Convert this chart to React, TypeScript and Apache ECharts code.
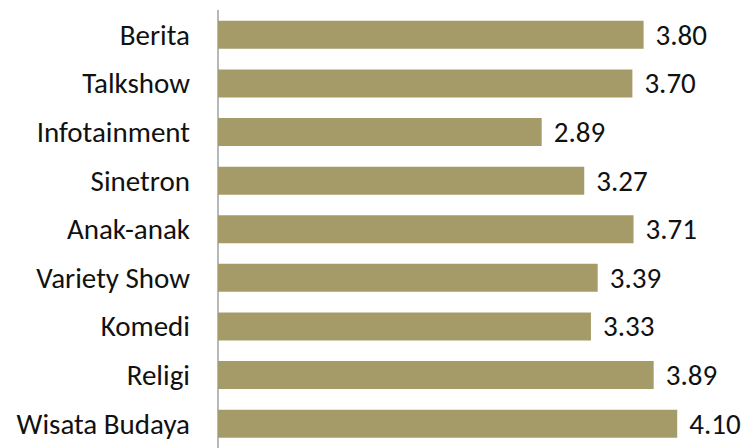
import React, { useEffect, useRef } from "react";
import * as echarts from "echarts";

const categories = [
  "Berita",
  "Talkshow",
  "Infotainment",
  "Sinetron",
  "Anak-anak",
  "Variety Show",
  "Komedi",
  "Religi",
  "Wisata Budaya",
];
const values = [3.8, 3.7, 2.89, 3.27, 3.71, 3.39, 3.33, 3.89, 4.1];

const FONT = "Carlito, Calibri, Lato, sans-serif";

export default function App() {
  const ref = useRef<HTMLDivElement>(null);
  useEffect(() => {
    if (!ref.current) return;
    const chart = echarts.init(ref.current, undefined, { renderer: "svg" });
    chart.setOption({
      animation: false,
      backgroundColor: "#ffffff",
      grid: { left: 218, right: 23, top: 10.5, height: 444.5, containLabel: false },
      xAxis: {
        type: "value",
        min: 0,
        max: 4.5,
        show: false,
      },
      yAxis: {
        type: "category",
        inverse: true,
        data: categories,
        axisLine: { show: true, lineStyle: { color: "#a0a0a0", width: 1.5 } },
        axisTick: { show: false },
        axisLabel: {
          margin: 28,
          fontSize: 29,
          fontWeight: 300,
          color: "#111111",
          fontFamily: FONT,
        },
        splitLine: { show: false },
      },
      series: [
        {
          type: "bar",
          data: values,
          barWidth: 28,
          itemStyle: { color: "#a59b69" },
          label: {
            show: true,
            position: "right",
            distance: 12,
            fontSize: 29,
            fontWeight: 300,
            color: "#111111",
            fontFamily: FONT,
            formatter: (p: any) => Number(p.value).toFixed(2),
          },
        },
      ],
    });
    return () => chart.dispose();
  }, []);
  return (
    <div
      ref={ref}
      style={{ position: "absolute", left: 0, top: 0, width: 745, height: 448 }}
    />
  );
}
